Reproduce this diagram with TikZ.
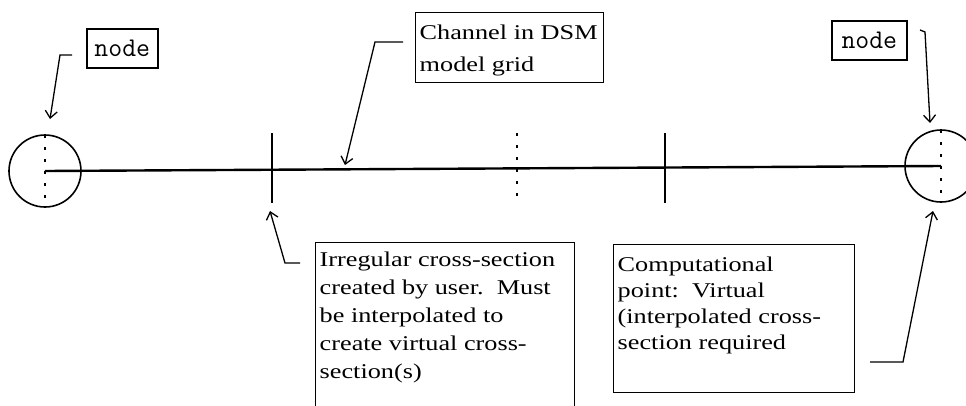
\documentclass[tikz,border=0pt]{standalone}
\usepackage{fontspec}
\setmainfont{Liberation Serif}
\newfontfamily\widefont[FakeStretch=1.25]{Liberation Serif}
\usetikzlibrary{arrows.meta}

\tikzset{
  notebox/.style={draw, line width=1.4pt, align=left, anchor=north west, inner xsep=4pt, inner ysep=4pt},
  nodebox/.style={draw, line width=1.6pt, anchor=north west, font=\ttfamily\addfontfeatures{FakeBold=1.5}\fontsize{27}{28}\selectfont},
  callout/.style={-{Straight Barb[length=7pt, width=12pt]}, line width=1.3pt},
  section/.style={line width=1.4pt},
  virtual/.style={line width=1.6pt, dash pattern=on 3pt off 9pt}
}

\begin{document}
\begin{tikzpicture}[x=1pt, y=-1pt]

  \clip (0,0) rectangle (966,405);

  % Nodes
  \draw (45,171) node[circle, draw, line width=1.6pt, minimum size=72pt] (upnode) {};
  \draw (941,166) node[circle, draw, line width=1.6pt, minimum size=72pt] (downnode) {};
  \draw[virtual] (45,135) -- (45,207);
  \draw[virtual] (941,130) -- (941,202);

  % Channel
  \draw[line width=2.4pt] (upnode.center) -- (downnode.center);

  % Cross-sections
  \draw[section] (272,133) -- (272,203);
  \draw[virtual] (517,133) -- (517,203);
  \draw[section] (665,133) -- (665,203);

  % Labels
  \draw (86,28) node[nodebox, minimum width=71pt, minimum height=39pt] (uplabel) {node};
  \draw (831,20) node[nodebox, minimum width=75pt, minimum height=39pt] (downlabel) {node};
  \draw (415,12) node[notebox, font=\widefont\fontsize{21}{32}\selectfont] (channel)
    {\parbox[t][62pt][t]{180pt}{\vspace*{8pt}Channel in DSM\\model grid}};
  \draw (315,242) node[notebox, font=\widefont\fontsize{21}{28}\selectfont] (irregular)
    {\parbox[t][180pt][t]{251pt}{\vspace*{5pt}Irregular cross-section\\created by user.\ \ Must\\be interpolated to\\create virtual cross-\\section(s)}};
  \draw (613,244) node[notebox, font=\widefont\fontsize{21}{26}\selectfont] (computational)
    {\parbox[t][140pt][t]{233pt}{\vspace*{8pt}Computational\\point:\ \ Virtual\\(interpolated cross-\\section required}};

  % Callouts
  \coordinate (uptail) at (72,55);
  \coordinate (uptip) at (50,119);
  \draw[callout] (uptail) -- (60,55) -- (uptip);

  \coordinate (channeltail) at (403,42);
  \coordinate (channeltip) at (345,165);
  \draw[callout] (channeltail) -- (375,42) -- (channeltip);

  \coordinate (downtail) at (920,30);
  \coordinate (downtip) at (930,123);
  \draw[callout] (downtail) -- (925,32) -- (downtip);

  \coordinate (irregulartail) at (300,263);
  \coordinate (irregulartip) at (270,211);
  \draw[callout] (irregulartail) -- (285,263) -- (irregulartip);

  \coordinate (computationaltail) at (870,362);
  \coordinate (computationaltip) at (933,211);
  \draw[callout] (computationaltail) -- (903,362) -- (computationaltip);

\end{tikzpicture}
\end{document}
